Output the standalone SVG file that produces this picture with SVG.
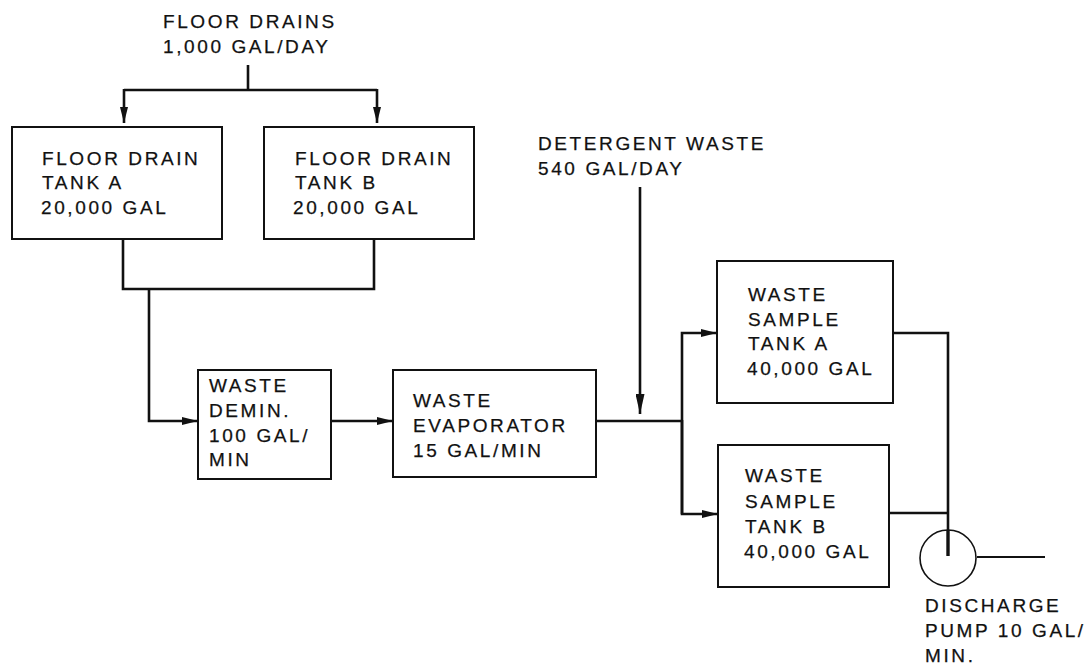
<svg xmlns="http://www.w3.org/2000/svg" width="1091" height="665" viewBox="0 0 1091 665">
<style>
.box{fill:#fff;stroke:#111;stroke-width:2}
.ln{fill:none;stroke:#111;stroke-width:2.6}
text{font-family:"Liberation Sans",Arial,sans-serif;font-size:19px;fill:#111;letter-spacing:2.6px;stroke:#111;stroke-width:0.25}
</style>
<defs>
<marker id="ah" viewBox="0 0 16 8" refX="16" refY="4" markerWidth="16" markerHeight="8" markerUnits="userSpaceOnUse" orient="auto">
<path d="M0,0 L16,4 L0,8 Z" fill="#111"/>
</marker>
<marker id="ahl" viewBox="0 0 20 9" refX="20" refY="4.5" markerWidth="20" markerHeight="9" markerUnits="userSpaceOnUse" orient="auto">
<path d="M0,0 L20,4.5 L0,9 Z" fill="#111"/>
</marker>
</defs>
<rect width="1091" height="665" fill="#fff"/>
<g id="floor-drains-label">
<text x="163" y="28">FLOOR DRAINS</text>
<text x="163" y="53">1,000 GAL/DAY</text>
</g>
<g id="detergent-label">
<text x="538" y="150">DETERGENT WASTE</text>
<text x="538" y="175">540 GAL/DAY</text>
</g>
<g id="tank-a">
<rect class="box" x="12" y="127" width="210" height="112"/>
<text x="42" y="165">FLOOR DRAIN</text>
<text x="42" y="189">TANK A</text>
<text x="41" y="214">20,000 GAL</text>
</g>
<g id="tank-b">
<rect class="box" x="264" y="127" width="210" height="112"/>
<text x="295" y="165">FLOOR DRAIN</text>
<text x="295" y="189">TANK B</text>
<text x="293" y="214">20,000 GAL</text>
</g>
<g id="demin">
<rect class="box" x="198" y="370" width="133" height="109"/>
<text x="209" y="392">WASTE</text>
<text x="209" y="417">DEMIN.</text>
<text x="209" y="442">100 GAL/</text>
<text x="209" y="466">MIN</text>
</g>
<g id="evaporator">
<rect class="box" x="393" y="370" width="203" height="107"/>
<text x="413" y="407">WASTE</text>
<text x="413" y="432">EVAPORATOR</text>
<text x="413" y="457">15 GAL/MIN</text>
</g>
<g id="sample-a">
<rect class="box" x="717" y="261" width="176" height="142"/>
<text x="748" y="301">WASTE</text>
<text x="748" y="326">SAMPLE</text>
<text x="748" y="350">TANK A</text>
<text x="747" y="375">40,000 GAL</text>
</g>
<g id="sample-b">
<rect class="box" x="718" y="445" width="171" height="142"/>
<text x="745" y="482">WASTE</text>
<text x="745" y="508">SAMPLE</text>
<text x="745" y="533">TANK B</text>
<text x="744" y="558">40,000 GAL</text>
</g>
<g id="pump">
<circle cx="948" cy="558" r="28" fill="#fff" stroke="#111" stroke-width="1.6"/>
<path d="M948,530 V556" stroke="#111" stroke-width="3.4"/>
<text x="925" y="612">DISCHARGE</text>
<text x="925" y="637">PUMP 10 GAL/</text>
<text x="925" y="662">MIN.</text>
</g>
<g id="connectors">
<path class="ln" d="M248,65 V90"/>
<path class="ln" d="M124,90 H377"/>
<path class="ln" d="M124,89 V123" marker-end="url(#ah)"/>
<path class="ln" d="M377,89 V123" marker-end="url(#ah)"/>
<path class="ln" d="M123,239 V289 H374 V239"/>
<path class="ln" d="M149,289 V421 H198" marker-end="url(#ah)"/>
<path class="ln" d="M331,421 H393" marker-end="url(#ah)"/>
<path class="ln" d="M596,421 H682"/>
<path class="ln" d="M640,187 V414" marker-end="url(#ahl)"/>
<path class="ln" d="M682,514 V333 H717" marker-end="url(#ah)"/>
<path class="ln" d="M682,420 V514 H718" marker-end="url(#ah)"/>
<path class="ln" d="M893,333 H948 V530"/>
<path class="ln" d="M889,513 H948"/>
<path class="ln" d="M977,557 H1045" style="stroke-width:2"/>
</g>
</svg>
